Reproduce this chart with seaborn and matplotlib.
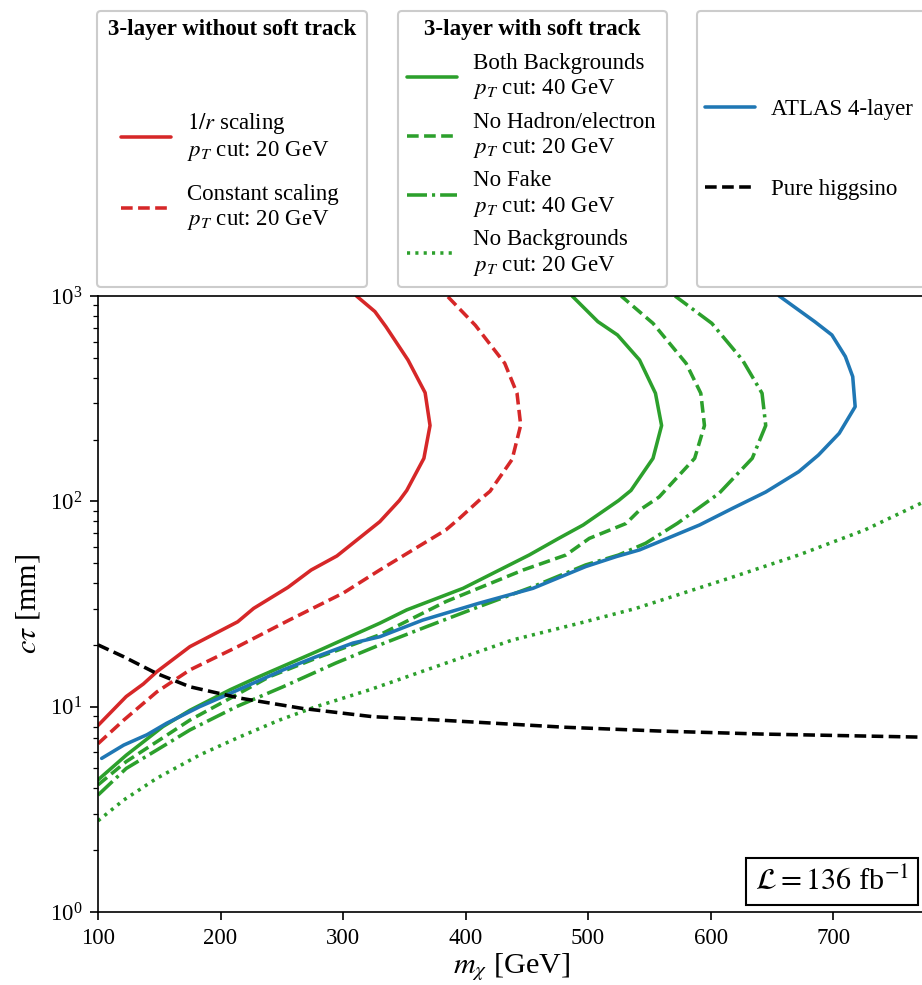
import numpy as np
import pandas as pd
import matplotlib
matplotlib.use("Agg")
import matplotlib.pyplot as plt
import seaborn as sns
from matplotlib.patches import FancyBboxPatch
from matplotlib.transforms import IdentityTransform
from matplotlib.offsetbox import AnchoredText

# curves: mass [GeV] vs c*tau [mm]
r_solid_m = [100, 123, 137, 148, 175, 214, 227, 255, 274, 295, 330, 346, 352, 366, 371, 367, 353, 335, 326, 311]
r_solid_ct = [8.1, 11.2, 12.9, 14.8, 19.6, 25.9, 30.1, 38.1, 46.3, 54.2, 79.6, 101, 113, 162, 234, 338, 488, 709, 840, 1000]

r_dash_m = [100, 121, 148, 175, 214, 256, 300, 330, 357, 384, 395, 411, 420, 438, 445, 442, 432, 408, 385]
r_dash_ct = [6.6, 8.6, 11.8, 15.1, 19.6, 26.4, 35.7, 46.3, 58, 72.6, 82.6, 101, 112, 160, 235, 336, 470, 720, 1000]

g_solid_m = [100, 123, 153, 175, 208, 229, 278, 330, 352, 398, 452, 476, 496, 525, 535, 553, 560, 555, 542, 524, 508, 487]
g_solid_ct = [4.4, 5.8, 8.0, 9.6, 12.1, 13.8, 18.5, 25.5, 29.6, 37.7, 54.8, 66, 76.7, 101, 113, 162, 234, 336, 488, 646, 750, 1000]

g_dash_m = [100, 123, 148, 175, 208, 240, 281, 330, 384, 447, 482, 501, 531, 542, 558, 587, 595, 592, 580, 553, 527]
g_dash_ct = [4.16, 5.4, 6.75, 8.6, 11, 14, 17.5, 22.4, 32.5, 46.3, 54.8, 66, 78, 90.6, 105, 162, 234, 336, 470, 736, 1000]

g_dashdot_m = [100, 123, 148, 175, 213, 251, 294, 330, 368, 411, 455, 498, 525, 547, 573, 607, 634, 645, 642, 626, 601, 571]
g_dashdot_ct = [3.71, 5.0, 6.15, 7.7, 10, 12.5, 16.3, 20, 24.5, 30.7, 38.4, 49, 54.8, 62.5, 78.2, 109.5, 162, 234, 336, 488, 736, 1000]

g_dot_m = [100, 121, 148, 183, 216, 248, 278, 322, 384, 438, 493, 539, 615, 672, 726, 775]
g_dot_ct = [2.78, 3.51, 4.48, 5.82, 7.14, 8.6, 10, 12.1, 16.3, 21.1, 25.5, 30.1, 42.2, 54.8, 72.6, 100]

atlas_m = [103, 121, 140, 156, 183, 202, 229, 251, 278, 308, 330, 365, 411, 455, 498, 523, 542, 591, 618, 645, 672, 688, 705, 718, 716, 710, 699, 685, 656]
atlas_ct = [5.6, 6.5, 7.3, 8.3, 10, 11.2, 13.2, 15.1, 17.5, 20.4, 21.9, 26.4, 31.9, 37.7, 48.1, 53.8, 58, 76.7, 92.5, 111, 139.5, 168, 214.5, 289, 405, 507, 646, 750, 1000]

higgsino_m = [100, 121, 148, 175, 216, 267, 324, 379, 481, 558, 640, 775]
higgsino_ct = [20, 17.5, 14.5, 12.5, 11, 9.8, 8.94, 8.6, 7.94, 7.61, 7.36, 7.1]

labels_a = ["$1/r$ scaling\n$p_T$ cut: 20 GeV", "Constant scaling\n$p_T$ cut: 20 GeV"]
labels_b = ["Both Backgrounds\n$p_T$ cut: 40 GeV", "No Hadron/electron\n$p_T$ cut: 20 GeV",
            "No Fake\n$p_T$ cut: 40 GeV", "No Backgrounds\n$p_T$ cut: 20 GeV"]
labels_c = ["ATLAS 4-layer", "Pure higgsino"]

sns.set_style("ticks", {"axes.edgecolor": "black", "text.color": "black",
                        "xtick.color": "black", "ytick.color": "black",
                        "axes.labelcolor": "black"})
plt.rcParams["font.family"] = "serif"
plt.rcParams["font.serif"] = ["Liberation Serif", "DejaVu Serif"]
plt.rcParams["mathtext.fontset"] = "stix"
plt.rcParams["font.size"] = 11
plt.rcParams["lines.scale_dashes"] = False

W, H, DPI = 922, 985, 150
fig = plt.figure(figsize=(W / DPI, H / DPI), dpi=DPI)
ax = fig.add_axes([98 / W, (H - 912) / H, (925 - 98) / W, 616 / H])

red, green, blue = "#d62728", "#2ca02c", "#1f77b4"
dash = (0, (5.6, 2.6))
dashdot = (0, (9.6, 2.4, 1.5, 2.4))
dot = (0, (1.5, 2.5))
series = [
    (r_solid_m, r_solid_ct, red, "-", labels_a[0]),
    (r_dash_m, r_dash_ct, red, dash, labels_a[1]),
    (g_solid_m, g_solid_ct, green, "-", labels_b[0]),
    (g_dash_m, g_dash_ct, green, dash, labels_b[1]),
    (g_dashdot_m, g_dashdot_ct, green, dashdot, labels_b[2]),
    (g_dot_m, g_dot_ct, green, dot, labels_b[3]),
    (atlas_m, atlas_ct, blue, "-", labels_c[0]),
    (higgsino_m, higgsino_ct, "black", dash, labels_c[1]),
]
for m, ct, c, ls, lab in series:
    df = pd.DataFrame({"m": m, "ct": ct})
    sns.lineplot(data=df, x="m", y="ct", ax=ax, color=c, linestyle=ls,
                 sort=False, estimator=None, label=lab, lw=1.7)
if ax.get_legend() is not None:
    ax.get_legend().remove()

ax.set_yscale("log")
ax.set_xlim(100, 775)
ax.set_ylim(1, 1000)
ax.set_xticks([100, 200, 300, 400, 500, 600, 700])
ax.set_xlabel(r"$m_\chi$ [GeV]", fontsize=14.5, labelpad=1.5)
ax.set_ylabel(r"$c\tau$ [mm]", fontsize=14.5)
ax.tick_params(labelsize=11)
ax.tick_params(which="major", length=4)
ax.tick_params(which="minor", length=2.2)

at = AnchoredText(r"$\mathcal{L} = 136$ fb$^{-1}$", loc="lower right",
                  prop=dict(size=14.5), frameon=True, borderpad=0.22, pad=0.3)
at.patch.set_linewidth(1.0)
ax.add_artist(at)

handles, labs = ax.get_legend_handles_labels()
hmap = dict(zip(labs, handles))

# legend frames, in pixels
boxes = [(97, 367), (398, 667), (697, 940)]
for x0, x1 in boxes:
    p = FancyBboxPatch((x0, H - 287), x1 - x0, 276,
                       boxstyle="round,pad=0,rounding_size=4",
                       transform=IdentityTransform(), facecolor="white",
                       edgecolor="0.8", lw=1.0)
    fig.add_artist(p)

fig.text(232 / W, 1 - 30 / H, "3-layer without soft track", ha="center",
         va="center", fontweight="bold", fontsize=11)
fig.text(532.5 / W, 1 - 30 / H, "3-layer with soft track", ha="center",
         va="center", fontweight="bold", fontsize=11)

leg_specs = [(labels_a, 121, 171.5, 0.92), (labels_b, 407, 165.3, 0.45),
             (labels_c, 705, 149.5, 2.55)]
for labset, hx, hy, sp in leg_specs:
    leg = fig.legend([hmap[l] for l in labset], labset, loc="center left",
                     bbox_to_anchor=(hx / W, 1 - hy / H), frameon=False,
                     borderpad=0, borderaxespad=0, handlelength=2.2,
                     handletextpad=0.7, labelspacing=sp, fontsize=11)

fig.savefig("out.png", dpi=DPI)
